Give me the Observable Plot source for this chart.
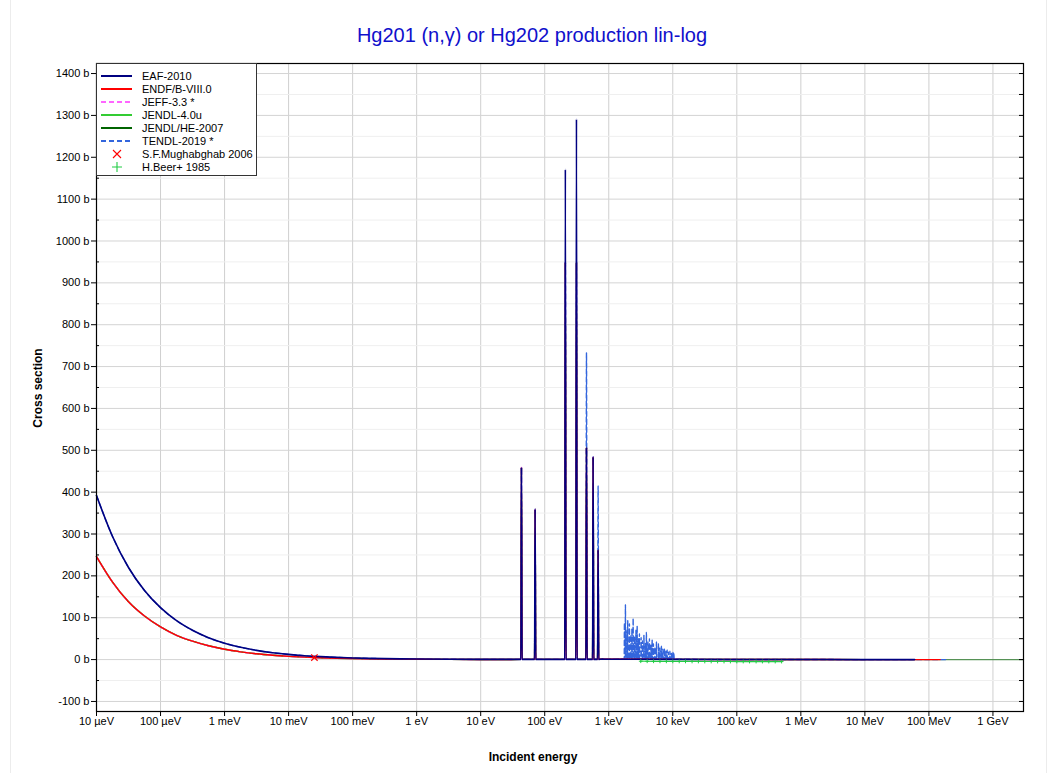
<!DOCTYPE html>
<html><head><meta charset="utf-8">
<script src="https://cdn.jsdelivr.net/npm/d3@7"></script>
<script src="https://cdn.jsdelivr.net/npm/@observablehq/plot@0.6"></script>
<style>
body{margin:0;background:#fff;font-family:"Liberation Sans",Arial,sans-serif;}
#wrap{position:relative;width:1053px;height:773px;overflow:hidden;}
#pageframe{position:absolute;left:10px;top:-2px;width:1035px;height:780px;border-left:1px solid #ececec;border-right:1px solid #ececec;pointer-events:none;}
#title{position:absolute;left:0;width:1064px;top:24px;text-align:center;font-size:20px;color:#1010cc;}
#xlabel{position:absolute;left:0;width:1066px;top:750px;text-align:center;font-size:12px;font-weight:bold;}
#ylabel{position:absolute;left:38px;top:388px;transform:translate(-50%,-50%) rotate(-90deg);font-size:12px;font-weight:bold;white-space:nowrap;}
#legend{position:absolute;left:96px;top:63px;width:161px;height:113px;border:1px solid #333;background:#fff;box-sizing:border-box;padding-top:5px;}
#legend .row{height:13.1px;display:flex;align-items:center;font-size:11px;white-space:nowrap;}
#legend svg{margin-left:4px;margin-right:10px;flex:none;}
</style></head><body>
<div id="wrap"><div id="pageframe"></div></div>
<script>
// ---------- data ----------
const xTicks = [1e-5,1e-4,1e-3,1e-2,1e-1,1,10,100,1e3,1e4,1e5,1e6,1e7,1e8,1e9];
const xTickLabels = ["10 µeV","100 µeV","1 meV","10 meV","100 meV","1 eV","10 eV","100 eV","1 keV","10 keV","100 keV","1 MeV","10 MeV","100 MeV","1 GeV"];
const yMajor = [-100,0,100,200,300,400,500,600,700,800,900,1000,1100,1200,1300,1400];
const yMinor = [-50,50,150,250,350,450,550,650,750,850,950,1050,1150,1250,1350];

// thermal / 1-v region (eV, barn)
const thermalE    = [1e-5,1.78e-5,3.16e-5,5.62e-5,1e-4,1.78e-4,3.16e-4,5.62e-4,1e-3,1.78e-3,3.16e-3,5.62e-3,1e-2,1.78e-2,3.16e-2,5.62e-2,0.1,0.178,0.316,0.562,1,3.16,10,30];
const eafThermal  = [392,294,220,165,124,93,70,52,39,29.4,22,16.5,12.4,9.3,7.0,5.2,3.9,2.9,2.2,1.7,1.3,0.75,0.5,0.5];
const endfThermal = [246,185,138,104,78,58,44,33,24.6,18.5,13.8,10.4,7.8,5.8,4.4,3.3,2.5,1.9,1.4,1.05,0.8,0.5,0.35,0.4];

// resolved resonances (eV) and peak heights (barn)
const resE     = [43.3,70.8,210,313,449,570,682];
const eafRes   = [459,359,1171,1291,507,484,262];
const endfRes  = [459,359,949,949,507,484,262];
const tendlRes = [459,359,949,949,733,484,415];

// TENDL-2019 unresolved structure (eV, barn)
const tendlSpikeE = [1757,1822,1923,1979,2103,2220,2301,2403,2518,2657,2775,2908,3014,3203,3357,3543,3740,3876,4091,4318,4558,4759,4986,5262,5554,5967,6298,6647,7015,7405,7815,8160,8551,9023,9524,10050,10420];
const tendlSpikeH = [88,131,70,93,86,60,75,99,55,70,80,50,62,53,45,58,40,65,42,50,35,48,38,30,42,39,28,32,25,27,20,23,18,20,15,17,14];

// smooth high-energy region (eV, barn)
const eafTailE   = [800,1e3,3e3,1e4,1e5,1e6,1e7,6e7];
const eafTail    = [1.0,0.9,0.7,0.5,0.2,0.1,0.01,0.002];
const endfTailE  = [800,1e3,3e3,1e4,1e5,1e6,1e7,1.5e8];
const endfTail   = [1.2,1.0,0.8,0.5,0.2,0.1,0.01,0.001];
const jendlTailE = [800,1e3,1e4,1e5,1e6,1e7,2e8,3e9];
const jendlTail  = [1.0,0.9,0.5,0.2,0.1,0.01,0.001,0.0005];
const tendlTailE = [800,1e3,1.5e3,1.2e4,1e5,1e6,1e7,2e8];
const tendlTail  = [1.0,0.9,1.5,1.0,0.2,0.1,0.01,0.001];

// measurements
const mughE = [0.0253], mughS = [4.89];
const beerE = [3.16e3,3.98e3,5.01e3,6.31e3,7.94e3,1e4,1.26e4,1.58e4,2e4,2.51e4,3.16e4,3.98e4,5.01e4,6.31e4,7.94e4,1e5,1.26e5,1.58e5,2e5,2.51e5,3.16e5,3.98e5,5.01e5];
const beerS = [0.9,0.8,0.7,0.62,0.55,0.5,0.45,0.4,0.36,0.32,0.28,0.25,0.22,0.2,0.18,0.16,0.14,0.13,0.12,0.11,0.1,0.09,0.08];

// legend / styling table
const libs   = ["EAF-2010","ENDF/B-VIII.0","JEFF-3.3 *","JENDL-4.0u","JENDL/HE-2007","TENDL-2019 *"];
const colors = ["#000080","#ff0000","#ff66ff","#33cc33","#006400","#3366dd"];
const dashes = [null,null,"5,3",null,null,"5,3"];
const expNames = ["S.F.Mughabghab 2006","H.Beer+ 1985"];
const expColors = ["#ff0000","#22cc44"];

// ---------- build tables ----------
function series(lib, tE, tS, rE, rH, sE, sH, eE, eS) {
  const pts = [];
  tE.forEach((e,i)=>pts.push({lib, E:e, s:tS[i]}));
  rE.forEach((e,i)=>{ pts.push({lib,E:e/1.02,s:0.5}); pts.push({lib,E:e,s:rH[i]}); pts.push({lib,E:e*1.02,s:0.5}); });
  sE.forEach((e,i)=>{ pts.push({lib,E:e/1.008,s:2}); pts.push({lib,E:e,s:sH[i]}); pts.push({lib,E:e*1.008,s:2}); });
  eE.forEach((e,i)=>pts.push({lib, E:e, s:eS[i]}));
  return pts.sort((a,b)=>a.E-b.E);
}
const data = {
  "JENDL/HE-2007": series("JENDL/HE-2007", thermalE, endfThermal, resE, endfRes, [], [], jendlTailE, jendlTail),
  "JENDL-4.0u":    series("JENDL-4.0u", thermalE, endfThermal, resE, endfRes, [], [], jendlTailE.slice(0,6), jendlTail.slice(0,6)),
  "JEFF-3.3 *":    series("JEFF-3.3 *", thermalE, endfThermal, resE, endfRes, [], [], endfTailE.slice(0,7), endfTail.slice(0,7)),
  "TENDL-2019 *":  series("TENDL-2019 *", thermalE, eafThermal, resE, tendlRes, tendlSpikeE, tendlSpikeH, tendlTailE, tendlTail),
  "ENDF/B-VIII.0": series("ENDF/B-VIII.0", thermalE, endfThermal, resE, endfRes, [], [], endfTailE, endfTail),
  "EAF-2010":      series("EAF-2010", thermalE, eafThermal, resE, eafRes, [], [], eafTailE, eafTail)
};
const drawOrder = ["JENDL/HE-2007","JENDL-4.0u","JEFF-3.3 *","TENDL-2019 *","ENDF/B-VIII.0","EAF-2010"];
const mugh = mughE.map((e,i)=>({E:e,s:mughS[i]}));
const beer = beerE.map((e,i)=>({E:e,s:beerS[i]}));

// ---------- chart ----------
const W = 1053, H = 773, mL = 96, mR = 30, mT = 63, mB = 62;
const plotW = W - mL - mR;
const labelOf = d => xTickLabels[xTicks.findIndex(t => Math.abs(Math.log10(t) - Math.log10(d)) < 1e-6)];

const lineMarks = drawOrder.map(name => {
  const i = libs.indexOf(name);
  return Plot.line(data[name], {x:"E", y:"s", stroke:colors[i], strokeWidth: name==="EAF-2010"?1.6:1.4,
    strokeDasharray: dashes[i] || undefined, curve:"monotone-x",
    strokeOpacity: name==="JENDL/HE-2007" ? 0.6 : 1});
});

const chart = Plot.plot({
  width: W, height: H,
  marginLeft: mL, marginRight: mR, marginTop: mT, marginBottom: mB,
  style: {fontFamily:"'Liberation Sans', Arial, sans-serif", fontSize:"11px", color:"#000", background:"transparent"},
  x: {type:"log", domain:[1e-5, 3e9]},
  y: {domain:[-124, 1424]},
  marks: [
    Plot.gridX(xTicks, {stroke:"#cfcfcf", strokeOpacity:1, strokeWidth:1}),
    Plot.gridY(yMinor, {stroke:"#efefef", strokeOpacity:1}),
    Plot.gridY(yMajor, {stroke:"#d4d4d4", strokeOpacity:1}),
    ...lineMarks,
    Plot.line(beer, {x:"E", y:"s", stroke:expColors[1], strokeWidth:1.2, dy:2}),
    Plot.dot(beer, {x:"E", y:"s", symbol:"plus", stroke:expColors[1], r:1.3, strokeWidth:1, dy:2}),
    Plot.dot(mugh, {x:"E", y:"s", symbol:"times", stroke:expColors[0], r:3, strokeWidth:1.2}),
    Plot.tickY(yMinor, {y:d=>d, stroke:"#000", insetRight: plotW - 3}),
    Plot.tickY([...yMajor, ...yMinor], {y:d=>d, stroke:"#000", insetLeft: plotW - 4}),
    Plot.frame({stroke:"#000", strokeWidth:1.2}),
    Plot.axisX(xTicks, {tickFormat: labelOf, tickSize:5, tickPadding:1, label:null, fontSize:11}),
    Plot.axisY(yMajor, {tickFormat: d => `${d} b`, tickSize:5, tickPadding:2, label:null, fontSize:11})
  ]
});

const wrap = document.getElementById("wrap");
chart.style.position = "absolute"; chart.style.left = "0"; chart.style.top = "0";
wrap.appendChild(chart);

function addDiv(id, text){ const d=document.createElement("div"); d.id=id; d.textContent=text; wrap.appendChild(d); return d; }
addDiv("title","Hg201 (n,γ) or Hg202 production lin-log");
addDiv("xlabel","Incident energy");
addDiv("ylabel","Cross section");

// legend
const leg = document.createElement("div"); leg.id = "legend"; wrap.appendChild(leg);
const NS = "http://www.w3.org/2000/svg";
function row(label, draw){
  const r = document.createElement("div"); r.className="row";
  const s = document.createElementNS(NS,"svg"); s.setAttribute("width",31); s.setAttribute("height",10);
  draw(s); r.appendChild(s);
  const t = document.createElement("span"); t.textContent = label; r.appendChild(t);
  leg.appendChild(r);
}
function el(tag, attrs){ const e=document.createElementNS(NS,tag); for(const k in attrs) e.setAttribute(k,attrs[k]); return e; }
libs.forEach((name,i)=>row(name, s=>{
  const l = el("line",{x1:0,x2:31,y1:5,y2:5,stroke:colors[i],"stroke-width":2});
  if (dashes[i]) l.setAttribute("stroke-dasharray", dashes[i]);
  s.appendChild(l);
}));
row(expNames[0], s=>{ s.appendChild(el("path",{d:"M12,1L20,9M20,1L12,9",stroke:expColors[0],"stroke-width":1.1,fill:"none"})); });
row(expNames[1], s=>{ s.appendChild(el("path",{d:"M11,5H21M16,0V10",stroke:expColors[1],"stroke-width":1.1,fill:"none"})); });
</script>
</body></html>
